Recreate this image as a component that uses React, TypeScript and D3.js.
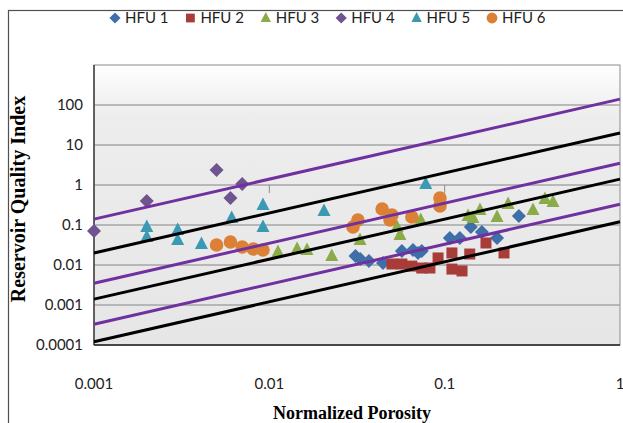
import React, { useEffect, useRef } from 'react'
import * as d3 from 'd3'

// series
const seriesNames = ['HFU 1', 'HFU 2', 'HFU 3', 'HFU 4', 'HFU 5', 'HFU 6']
const seriesColors = ['#3f6fa8', '#a83c38', '#8aab48', '#6f5490', '#3a9ab4', '#dc8036']
const seriesShapes = ['diamond', 'square', 'triangle', 'diamond', 'triangle', 'circle']

const hfu1Porosity = [0.031, 0.033, 0.037, 0.0445, 0.057, 0.066, 0.0705, 0.074, 0.107, 0.122, 0.141, 0.163, 0.199, 0.265]
const hfu1Rqi = [0.0168, 0.0141, 0.0126, 0.0112, 0.0224, 0.0237, 0.02, 0.0224, 0.0473, 0.0473, 0.089, 0.0668, 0.0473, 0.168]

const hfu2Porosity = [0.05, 0.057, 0.065, 0.074, 0.0824, 0.0917, 0.11, 0.11, 0.1256, 0.139, 0.172, 0.218]
const hfu2Rqi = [0.0106, 0.0106, 0.0094, 0.0084, 0.0084, 0.015, 0.02, 0.0079, 0.0071, 0.0188, 0.0355, 0.02]

const hfu3Porosity = [0.0112, 0.0144, 0.0164, 0.0227, 0.0329, 0.0535, 0.0556, 0.073, 0.136, 0.145, 0.159, 0.199, 0.23, 0.319, 0.373, 0.415]
const hfu3Rqi = [0.0211, 0.0251, 0.0237, 0.0168, 0.042, 0.089, 0.056, 0.133, 0.168, 0.15, 0.237, 0.158, 0.335, 0.237, 0.447, 0.376]

const hfu4Porosity = [0.001, 0.002, 0.005, 0.006, 0.007]
const hfu4Rqi = [0.0708, 0.398, 2.37, 0.473, 1.06]

const hfu5Porosity = [0.002, 0.002, 0.003, 0.003, 0.0041, 0.0061, 0.0092, 0.0092, 0.0205, 0.078]
const hfu5Rqi = [0.089, 0.05, 0.075, 0.042, 0.0335, 0.15, 0.316, 0.089, 0.224, 1.06]

const hfu6Porosity = [0.005, 0.006, 0.007, 0.0081, 0.0092, 0.03, 0.032, 0.044, 0.05, 0.0488, 0.065, 0.094, 0.094]
const hfu6Rqi = [0.0316, 0.0376, 0.0282, 0.0251, 0.0237, 0.089, 0.133, 0.251, 0.178, 0.133, 0.158, 0.473, 0.3]

const seriesPorosity = [hfu1Porosity, hfu2Porosity, hfu3Porosity, hfu4Porosity, hfu5Porosity, hfu6Porosity]
const seriesRqi = [hfu1Rqi, hfu2Rqi, hfu3Rqi, hfu4Rqi, hfu5Rqi, hfu6Rqi]

// FZI boundary lines (RQI = FZI * phi_z)
const fziPurple = [140, 3.5, 0.33]
const fziBlack = [20, 1.4, 0.12]
const lineEnds = [0.001, 1]

const xTicks = [0.001, 0.01, 0.1, 1]
const xTickLabels = ['0.001', '0.01', '0.1', '1']
const yTicks = [0.0001, 0.001, 0.01, 0.1, 1, 10, 100]
const yTickLabels = ['0.0001', '0.001', '0.01', '0.1', '1', '10', '100']

const shapePath = (shape: string, cx: number, cy: number) => {
  if (shape === 'diamond') return `M${cx},${cy - 7}L${cx + 7},${cy}L${cx},${cy + 7}L${cx - 7},${cy}Z`
  if (shape === 'square') return `M${cx - 5.5},${cy - 5.5}h11v11h-11Z`
  if (shape === 'triangle') return `M${cx},${cy - 7.5}L${cx + 6.5},${cy + 5}L${cx - 6.5},${cy + 5}Z`
  return d3.arc()({ innerRadius: 0, outerRadius: 6.8, startAngle: 0, endAngle: Math.PI * 2 }) as string
}

const App = () => {
  const ref = useRef<SVGSVGElement>(null)

  useEffect(() => {
    const W = 623
    const H = 423
    const left = 94, right = 620, top = 65, bottom = 345
    const sans = "Lato, 'Open Sans', sans-serif"
    const serif = "'Liberation Serif', 'DejaVu Serif', serif"

    const x = d3.scaleLog().domain([0.001, 1]).range([left, right])
    const y = d3.scaleLog().domain([0.0001, 1000]).range([bottom, top])

    const svg = d3.select(ref.current).attr('width', W).attr('height', H)
    svg.selectAll('*').remove()

    svg.append('rect').attr('width', W).attr('height', H).attr('fill', '#fff')
    svg.append('rect')
      .attr('x', 8.5).attr('y', 10.5).attr('width', 700).attr('height', 500)
      .attr('fill', 'none').attr('stroke', '#505050').attr('stroke-width', 1.2)

    const defs = svg.append('defs')
    const grad = defs.append('linearGradient').attr('id', 'bg').attr('x1', 0).attr('y1', 0).attr('x2', 0).attr('y2', 1)
    grad.append('stop').attr('offset', '0%').attr('stop-color', '#ffffff')
    grad.append('stop').attr('offset', '18%').attr('stop-color', '#ededed')
    grad.append('stop').attr('offset', '100%').attr('stop-color', '#e6e6e6')

    // plot area
    svg.append('rect')
      .attr('x', left).attr('y', top).attr('width', right - left).attr('height', bottom - top)
      .attr('fill', 'url(#bg)').attr('stroke', '#8c8c8c').attr('stroke-width', 1)

    // gridlines
    svg.append('g').selectAll('line')
      .data(yTicks.slice(1))
      .enter().append('line')
      .attr('x1', left).attr('x2', right)
      .attr('y1', d => y(d)).attr('y2', d => y(d))
      .attr('stroke', '#a6a6a6').attr('stroke-width', 1.5)

    // x tick marks where the horizontal axis crosses (y = 1)
    svg.append('g').selectAll('line')
      .data(xTicks.slice(1, 3))
      .enter().append('line')
      .attr('x1', d => x(d)).attr('x2', d => x(d))
      .attr('y1', y(1)).attr('y2', y(1) + 8)
      .attr('stroke', '#8c8c8c').attr('stroke-width', 1)

    // axes lines
    svg.append('line').attr('x1', left).attr('x2', left).attr('y1', top).attr('y2', bottom)
      .attr('stroke', '#404040').attr('stroke-width', 1.5)
    svg.append('line').attr('x1', left).attr('x2', right).attr('y1', bottom).attr('y2', bottom)
      .attr('stroke', '#202020').attr('stroke-width', 1.5)

    // tick labels
    svg.append('g').selectAll('text')
      .data(yTicks)
      .enter().append('text')
      .attr('x', 83).attr('y', d => y(d)).attr('dy', '0.35em')
      .attr('text-anchor', 'end')
      .attr('font-family', sans).attr('font-size', 15).attr('fill', '#222')
      .text((d, i) => yTickLabels[i])

    svg.append('g').selectAll('text')
      .data(xTicks)
      .enter().append('text')
      .attr('x', d => x(d)).attr('y', 389)
      .attr('text-anchor', 'middle')
      .attr('font-family', sans).attr('font-size', 15).attr('fill', '#222')
      .text((d, i) => xTickLabels[i])

    // axis titles
    svg.append('text')
      .attr('transform', `translate(25,199) rotate(-90)`)
      .attr('text-anchor', 'middle')
      .attr('font-family', serif).attr('font-weight', 'bold').attr('font-size', 20)
      .text('Reservoir Quality Index')
    svg.append('text')
      .attr('x', 352).attr('y', 419)
      .attr('text-anchor', 'middle')
      .attr('font-family', serif).attr('font-weight', 'bold').attr('font-size', 18)
      .text('Normalized Porosity')

    // markers
    seriesNames.forEach((name, s) => {
      const pts = seriesPorosity[s].map((p, i) => [p, seriesRqi[s][i]])
      svg.append('g').selectAll('path')
        .data(pts)
        .enter().append('path')
        .attr('d', d => seriesShapes[s] === 'circle'
          ? shapePath('circle', 0, 0)
          : shapePath(seriesShapes[s], x(d[0]), y(d[1])))
        .attr('transform', d => seriesShapes[s] === 'circle' ? `translate(${x(d[0])},${y(d[1])})` : null)
        .attr('fill', seriesColors[s])
    })

    // FZI lines
    const line = d3.line<number>().x(d => x(d[0])).y(d => y(d[1]))
    const drawLines = (fzis: number[], color: string) => {
      svg.append('g').selectAll('path')
        .data(fzis)
        .enter().append('path')
        .attr('d', f => line(lineEnds.map(p => [p, f * p]) as any))
        .attr('fill', 'none').attr('stroke', color).attr('stroke-width', 3)
    }
    drawLines(fziBlack, '#000')
    drawLines(fziPurple, '#7030a0')

    // legend
    const legend = svg.append('g')
    seriesNames.forEach((name, s) => {
      const mx = 115 + s * 75.4
      const g = legend.append('g')
      g.append('path').attr('d', shapePath(seriesShapes[s], 0, 0))
        .attr('transform', `translate(${mx},18) scale(0.8)`).attr('fill', seriesColors[s])
      g.append('text').attr('x', mx + 10).attr('y', 18).attr('dy', '0.35em')
        .attr('font-family', sans).attr('font-size', 15).attr('fill', '#222')
        .text(name)
    })
  }, [])

  return (
    <svg ref={ref} style={{ position: 'absolute', left: 0, top: 0, display: 'block' }}></svg>
  )
}

export default App
